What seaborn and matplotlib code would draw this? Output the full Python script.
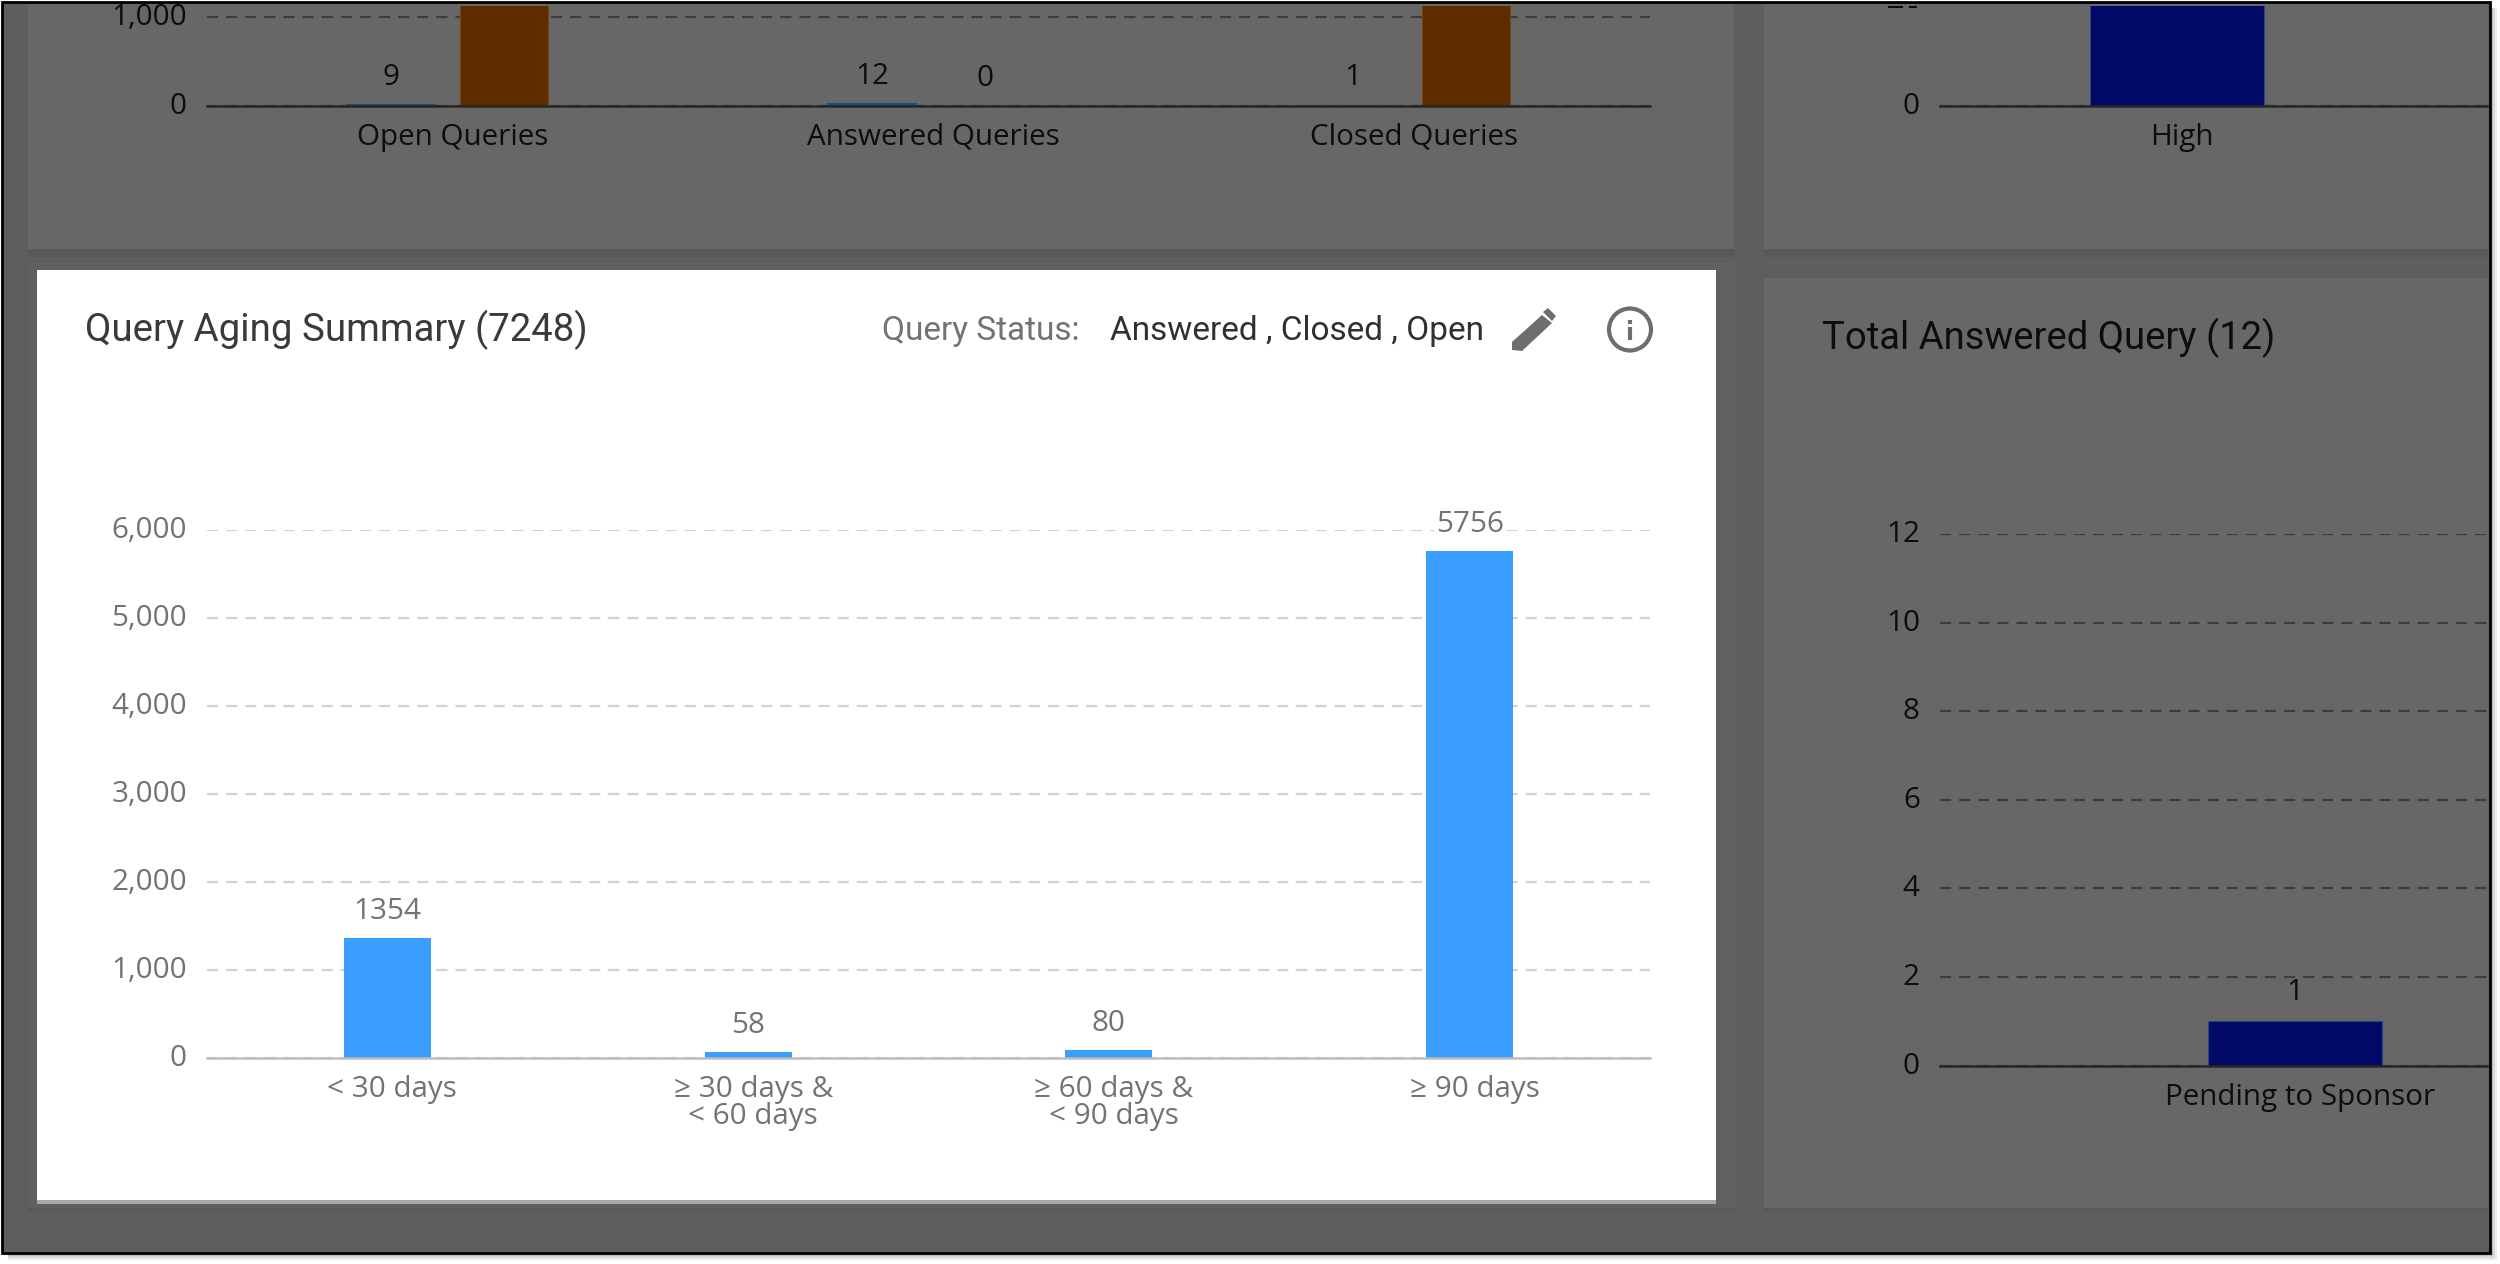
import matplotlib
matplotlib.use("Agg")
import matplotlib.pyplot as plt
import matplotlib.patches as mp
from matplotlib.lines import Line2D
from matplotlib.ticker import FuncFormatter
from matplotlib.transforms import ScaledTranslation
import pandas as pd
import seaborn as sns

W, H = 2500, 1264

# Query aging card
aging_labels = ["< 30 days", "≥ 30 days &\n< 60 days", "≥ 60 days &\n< 90 days", "≥ 90 days"]
aging_counts = [1354, 58, 80, 5756]
aging_ticks = [0, 1000, 2000, 3000, 4000, 5000, 6000]

# Query totals panel, two series per status
status_labels = ["Open Queries", "Answered Queries", "Closed Queries"]
sponsor_counts = [9, 12, 1]
site_counts = [3200, 0, 4026]

# Priority panel
priority_labels = ["High"]
priority_counts = [22]

# Answered query panel
answered_labels = ["Pending to Sponsor"]
answered_counts = [1]
answered_ticks = [0, 2, 4, 6, 8, 10, 12]

BG = "#5e5e5e"
PANEL = "#676767"
CARD_RING = "#606060"
BLUE = "#3a9dff"
NAVY = "#000a66"
STEEL = "#1c4f7e"
BROWN = "#5f2c00"
TEXT_DARK = "#0d0d0d"
TEXT_GREY = "#737373"
ICON = "#6e6e6e"
TICK_FONT = "Open Sans"
HEAD_FONT = "Roboto"
TICK_SIZE = 21.3

sns.set_theme(style="white")
fig = plt.figure(figsize=(W / 100, H / 100), dpi=100, facecolor="white")


def add_axes_px(x0, y0, x1, y1):
    ax = fig.add_axes([x0 / W, 1 - y1 / H, (x1 - x0) / W, (y1 - y0) / H])
    ax.patch.set_alpha(0)
    return ax


def rect_px(x0, y0, x1, y1, color, z=0, **kw):
    fig.add_artist(mp.Rectangle((x0 / W, 1 - y1 / H), (x1 - x0) / W, (y1 - y0) / H,
                                transform=fig.transFigure, facecolor=color,
                                edgecolor=kw.pop("ec", "none"), zorder=z, **kw))


def text_px(x, y, s, **kw):
    kw.setdefault("va", "center")
    return fig.text(x / W, 1 - y / H, s, **kw)


def line_px(x0, y0, x1, y1, color, width):
    fig.add_artist(Line2D([x0 / W, x1 / W], [1 - y0 / H, 1 - y1 / H], color=color,
                          linewidth=width, transform=fig.transFigure, solid_capstyle="butt"))


def px_offset(dx, dy):
    return ScaledTranslation(dx / 100, dy / 100, fig.dpi_scale_trans)


def style_axis(ax, grid, base, tick_color, ticks):
    sns.despine(ax=ax, left=True, top=True, right=True)
    ax.set_yticks(ticks)
    ax.yaxis.set_major_formatter(FuncFormatter(lambda v, _: f"{int(v):,}"))
    ax.grid(axis="y", color=grid, linewidth=1.6, linestyle=(0, (5.0, 3.6)))
    ax.set_axisbelow(True)
    ax.spines["bottom"].set_color(base)
    ax.spines["bottom"].set_linewidth(1.8)
    ax.tick_params(axis="both", length=0, labelcolor=tick_color, labelsize=TICK_SIZE)
    ax.tick_params(axis="y", pad=14.5)
    ax.tick_params(axis="x", pad=12.3)
    for lab in ax.get_xticklabels():
        lab.set_fontfamily(TICK_FONT)
        lab.set_transform(lab.get_transform() + px_offset(5, 0))
    for lab in ax.get_yticklabels():
        lab.set_fontfamily(TICK_FONT)
        lab.set_transform(lab.get_transform() + px_offset(0, 3))
    ax.set_xlabel("")
    ax.set_ylabel("")


def outline_bars(bars, color):
    for bar in bars:
        bar.set_edgecolor(color)
        bar.set_linewidth(0.8)


# Soft drop shadow round the window
for grow, tone in ((7, "#ececec"), (5, "#d8d8d8"), (3, "#bdbdbd")):
    rect_px(8, 8, 2490 + grow, 1253 + grow, tone, z=-6)

# Screen background and dimmed panels
rect_px(2, 2, 2490, 1253, BG, z=-5, ec="#000000", linewidth=2)
rect_px(28, 4, 1734, 257, "#585858", z=-4.5)
rect_px(1764, 4, 2488, 257, "#585858", z=-4.5)
rect_px(28, 270, 1734, 1211, "#585858", z=-4.5)
rect_px(1764, 278, 2488, 1211, "#585858", z=-4.5)
rect_px(28, 4, 1734, 249, PANEL, z=-4)
rect_px(1764, 4, 2488, 249, PANEL, z=-4)
rect_px(28, 262, 1734, 1208, CARD_RING, z=-4)
rect_px(1764, 278, 2488, 1208, PANEL, z=-4)
rect_px(37, 270, 1716, 1204, "#a8a8a8", z=-3.5)
rect_px(37, 270, 1716, 1200, "white", z=-3)

# Query totals: bars run past the top of the visible screen
ax = add_axes_px(207, 6, 1650, 105.5)
totals = pd.DataFrame({
    "status": status_labels * 2,
    "count": sponsor_counts + site_counts,
    "series": ["sponsor"] * 3 + ["site"] * 3,
})
sns.barplot(data=totals, x="status", y="count", hue="series", order=status_labels,
            palette={"sponsor": STEEL, "site": BROWN}, width=0.47, gap=0.23,
            legend=False, ax=ax, saturation=1, linewidth=0)
ax.set_xlim(-0.5, 2.5)
ax.set_ylim(0, 1124)
style_axis(ax, "#3c3c3c", "#262626", TEXT_DARK, [0, 1000])
for bar, value in zip(ax.containers[0], sponsor_counts):
    if value > 1:
        bar.set_edgecolor(STEEL)
        bar.set_linewidth(1.6)
for bar, value in zip(ax.containers[1], site_counts):
    if value > 0:
        bar.set_edgecolor("#75480a")
        bar.set_linewidth(0.8)
for cont, values in zip(ax.containers, (sponsor_counts, site_counts)):
    for bar, value in zip(cont, values):
        if value < 1000:
            ax.annotate(f"{value}", (bar.get_x() + bar.get_width() / 2, value),
                        xytext=(0, 13), textcoords="offset pixels", ha="center", va="bottom",
                        fontsize=TICK_SIZE, family=TICK_FONT, color=TEXT_DARK, clip_on=False)

# Priority panel; strokes at the top are what stays visible of the next axis label
ax = add_axes_px(1940, 6, 2487, 105.5)
sns.barplot(x=priority_labels, y=priority_counts, color=NAVY, width=0.367, ax=ax,
            saturation=1, linewidth=0)
ax.set_xlim(-0.5, 0.654)
ax.set_ylim(0, 18.9)
style_axis(ax, "#3c3c3c", "#262626", TEXT_DARK, [0])
outline_bars(ax.containers[0], "#1f4a80")
line_px(1888, 6.5, 1903, 6.5, TEXT_DARK, 1.5)
line_px(1909, 6.5, 1917, 6.5, TEXT_DARK, 1.5)

# Aging card
ax = add_axes_px(207, 529.5, 1650, 1057.5)
sns.barplot(x=aging_labels, y=aging_counts, color=BLUE, width=0.241, ax=ax, saturation=1,
            linewidth=0)
ax.set_xlim(-0.5, 3.5)
ax.set_ylim(0, 6000)
style_axis(ax, "#d2d2d2", "#bdbdbd", TEXT_GREY, aging_ticks)
for lab in ax.get_xticklabels():
    lab.set_linespacing(0.95)
for bar, value in zip(ax.containers[0], aging_counts):
    ax.annotate(f"{value}", (bar.get_x() + bar.get_width() / 2, value),
                xytext=(0, 12), textcoords="offset pixels", ha="center", va="bottom",
                fontsize=TICK_SIZE, family=TICK_FONT, color=TEXT_GREY, clip_on=False,
                bbox=dict(facecolor="white", edgecolor="none", pad=1.5))

# Answered query panel
ax = add_axes_px(1940, 534, 2487, 1065.5)
sns.barplot(x=answered_labels, y=answered_counts, color=NAVY, width=0.245, ax=ax, saturation=1,
            linewidth=0)
ax.set_xlim(-0.5, 0.27)
ax.set_ylim(0, 12)
style_axis(ax, "#3c3c3c", "#262626", TEXT_DARK, answered_ticks)
outline_bars(ax.containers[0], "#1f4a80")
ax.annotate(f"{answered_counts[0]}", (0, answered_counts[0]), xytext=(0, 14),
            textcoords="offset pixels", ha="center", va="bottom", fontsize=TICK_SIZE,
            family=TICK_FONT, color=TEXT_DARK, clip_on=False)

# Card headers
text_px(85, 330, "Query Aging Summary (7248)", fontsize=27.6, family=HEAD_FONT, color="#3a3a3a")
text_px(882, 331, "Query Status:", fontsize=24, family=HEAD_FONT, color=TEXT_GREY)
text_px(1110, 331, "Answered , Closed , Open", fontsize=24, family=HEAD_FONT, color="#303030")
text_px(1822, 338, "Total Answered Query (12)", fontsize=27.5, family=HEAD_FONT, color=TEXT_DARK)

# Edit and info icons
pencil_body = [(1512, 350), (1512, 342), (1542, 315), (1552, 323), (1522, 351)]
pencil_cap = [(1543, 312), (1548, 308), (1556, 316), (1552, 321)]
for shape in (pencil_body, pencil_cap):
    fig.add_artist(mp.Polygon([(x / W, 1 - y / H) for x, y in shape], closed=True,
                              transform=fig.transFigure, facecolor=ICON, edgecolor="none"))
fig.add_artist(mp.Ellipse((1630 / W, 1 - 329.5 / H), 42 / W, 42 / H, transform=fig.transFigure,
                          facecolor="none", edgecolor=ICON, linewidth=3))
line_px(1630, 327, 1630, 340, ICON, 3)
line_px(1630, 320, 1630, 324, ICON, 3)

fig.savefig("out.png", dpi=100)
